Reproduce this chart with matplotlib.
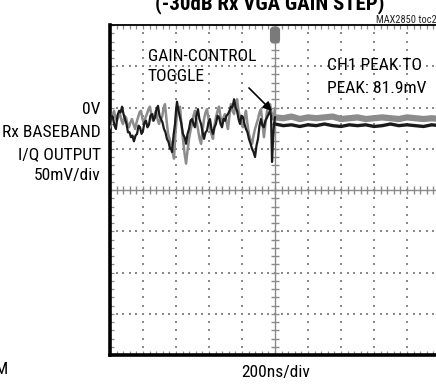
import matplotlib
matplotlib.use("Agg")
import matplotlib.pyplot as plt
import numpy as np
from matplotlib.patches import FancyBboxPatch, FancyArrowPatch

plt.rcParams['font.family'] = ['Roboto Condensed', 'Archivo Narrow', 'DejaVu Sans']

W, H = 436, 388

# ---- data (time in ns, voltage in mV relative to screen centre) ----
black_t = [0, 9, 18, 27, 36, 45, 55, 64, 73, 82, 91, 100, 109, 118, 127, 136, 145, 155, 164,
           173, 182, 191, 200, 209, 218, 227, 236, 245, 255, 264, 273, 282, 291, 300, 309,
           318, 327, 336, 345, 355, 364, 370, 376, 385, 394, 400, 406, 415, 424, 433, 442,
           452, 461, 470, 479, 488, 497, 506, 515, 524, 533, 542, 552, 561, 570, 579, 588,
           597, 606, 615, 624, 633, 642, 652, 661, 670, 679, 688, 697, 706, 715, 724, 733,
           742, 752, 761, 770, 779, 788, 797, 806, 815, 824, 833, 842, 852, 861, 870, 879,
           888, 897, 906, 915, 924, 933, 942, 952, 961, 970, 976, 982, 988, 994, 1000]
black_v = [80, 90, 88, 78, 74, 90, 96, 94, 101, 92, 86, 80, 70, 70, 64, 66, 59, 66, 68,
           78, 76, 68, 72, 82, 84, 76, 79, 90, 92, 84, 88, 98, 102, 90, 86,
           82, 74, 70, 62, 58, 50, 50, 46, 66, 80, 96, 107, 96, 88, 80, 68,
           64, 56, 68, 74, 84, 86, 80, 76, 90, 98, 86, 80, 70, 62, 70, 72,
           82, 86, 74, 68, 76, 80, 90, 88, 80, 76, 86, 84, 90, 92, 96, 101,
           100, 110, 100, 96, 86, 80, 90, 88, 80, 74, 70, 62, 56, 50, 46, 40,
           54, 62, 78, 86, 78, 76, 84, 88, 92, 96, 90, 34, 60, 80, 88]
gray_t = [0, 12, 24, 33, 42, 52, 61, 70, 79, 88, 97, 106, 115, 124, 133, 142, 152, 161, 170,
          179, 188, 197, 206, 215, 224, 233, 242, 252, 261, 270, 279, 288, 297, 306, 315,
          324, 333, 343, 352, 361, 370, 379, 388, 397, 406, 415, 424, 433, 442, 452, 461,
          470, 479, 488, 497, 506, 515, 524, 533, 543, 552, 561, 570, 579, 588, 597, 606,
          615, 624, 633, 642, 652, 661, 670, 679, 688, 697, 706, 715, 724, 733, 743, 752,
          761, 770, 779, 788, 797, 806, 815, 824, 833, 842, 852, 861, 870, 879, 888, 897,
          906, 915, 924, 933, 943, 952, 961, 970, 979, 988, 994, 1000]
gray_v = [76, 88, 96, 88, 84, 90, 92, 84, 80, 90, 88, 80, 76, 82, 86, 80, 74, 82, 88,
          94, 96, 86, 80, 88, 92, 98, 101, 90, 84, 92, 96, 86, 80, 86, 88,
          98, 104, 84, 68, 62, 56, 46, 38, 70, 92, 98, 101, 80, 62, 44, 32,
          48, 62, 72, 80, 90, 96, 84, 74, 62, 56, 72, 86, 94, 98, 86, 76,
          68, 62, 78, 88, 96, 101, 88, 80, 88, 92, 82, 74, 90, 104, 96, 92,
          102, 110, 96, 88, 80, 76, 88, 96, 80, 68, 60, 56, 66, 74, 80, 86,
          94, 98, 80, 64, 82, 96, 100, 104, 94, 86, 92, 98]
post_t = [1000, 1050, 1100, 1150, 1200, 1250, 1300, 1350, 1400, 1450, 1500,
          1550, 1600, 1650, 1700, 1750, 1800, 1850, 1900, 1950, 2000]
post_black_v = [80, 78, 79, 77, 79, 78, 80, 78, 77, 79, 78, 79, 77, 78, 80, 78, 79, 78, 77, 79, 78]
post_gray_v = [88, 87, 89, 86, 88, 87, 88, 89, 86, 87, 88, 86, 87, 88, 87, 86, 88, 87, 86, 87, 86]

left_labels = ["0V", "Rx BASEBAND", "I/Q OUTPUT", "50mV/div"]
title = "(-30dB Rx VGA GAIN STEP)"

fig = plt.figure(figsize=(W / 100, H / 100), dpi=100)


def fx(x):
    return x / W


def fy(y):
    return 1 - y / H


ax = fig.add_axes([fx(110), fy(355), 330 / W, 330 / H])
ax.set_xlim(0, 2000)
ax.set_ylim(-200, 200)

gc = '#8a8a8a'
# dotted graticule
for gx in range(200, 2000, 200):
    if gx == 1000:
        continue
    ys = np.arange(-200, 201, 10)
    ax.scatter(np.full(len(ys), gx), ys, s=2.2, marker='s', color=gc, linewidths=0, zorder=1)
for gyy in (-150, -100, -50, 50, 100, 150):
    xs = np.arange(0, 2001, 40)
    ax.scatter(xs, np.full(len(xs), gyy), s=2.2, marker='s', color=gc, linewidths=0, zorder=1)
# centre cross
ax.axvline(1000, color=gc, lw=1.0, zorder=1)
ax.axhline(0, color=gc, lw=1.0, zorder=1)
xs = np.arange(0, 2001, 40)
ax.plot(xs, np.zeros(len(xs)), ls='none', marker='|', ms=6, mew=1.0, color=gc, zorder=1)
ys = np.arange(-200, 201, 10)
ax.plot(np.full(len(ys), 1000), ys, ls='none', marker='_', ms=6, mew=1.0, color=gc, zorder=1)

# traces
ax.plot(gray_t, gray_v, color='#8c8c8c', lw=1.8, zorder=3)
ax.plot(black_t, black_v, color='#1a1a1a', lw=1.6, zorder=4)
ax.plot(post_t, post_gray_v, color='#8c8c8c', lw=4.5, zorder=3, solid_joinstyle='round')
ax.plot(post_t, post_black_v, color='#1a1a1a', lw=2.4, zorder=4)

# frame and ticks
ax.set_xticks(np.arange(0, 2001, 200))
ax.set_xticks(np.arange(0, 2001, 40), minor=True)
ax.set_yticks(np.arange(-200, 201, 50))
ax.set_yticks(np.arange(-200, 201, 10), minor=True)
ax.tick_params(which='both', direction='in', top=True, right=True, labelbottom=False,
               labelleft=False, length=3, width=0.9, color=gc)
for s in ('left', 'bottom', 'right'):
    ax.spines[s].set_linewidth(2.6)
ax.spines['top'].set_linewidth(1.3)
ax.set_facecolor('white')

# trigger marker
tb = FancyBboxPatch((fx(271.5), fy(42)), 7 / W, 14 / H, boxstyle='round,pad=0.002,rounding_size=0.008',
                    transform=fig.transFigure, facecolor='#7a7a7a', edgecolor='#7a7a7a', zorder=6)
fig.patches.append(tb)
fig.text(fx(275), fy(35), "T", color='white', fontsize=6.5, fontweight='bold', ha='center', va='center')

fs = 12.6
# annotations inside
fig.text(fx(148), fy(56.5), "GAIN-CONTROL", fontsize=fs, ha='left', va='center')
fig.text(fx(148), fy(76.5), "TOGGLE", fontsize=fs, ha='left', va='center')
fig.text(fx(327), fy(66), "CH1 PEAK TO", fontsize=fs, ha='left', va='center')
fig.text(fx(327), fy(88.5), "PEAK: 81.9mV", fontsize=fs, ha='left', va='center')
fig.add_artist(FancyArrowPatch((fx(247), fy(86)), (fx(274), fy(113)),
                               transform=fig.transFigure, arrowstyle='-|>',
                               mutation_scale=13, lw=1.2, color='black', zorder=7))

# left labels
for lab, yy in zip(left_labels, [109, 132.5, 154.5, 175.5]):
    fig.text(fx(100.5), fy(yy), lab, fontsize=fs, ha='right', va='center')

# top title (cut off) and id
fig.text(fx(270), fy(9), title, fontsize=15, fontweight='bold', ha='center', va='baseline')
fig.text(fx(437), fy(23), "MAX2850 toc2", fontsize=7.5, ha='right', va='baseline', color='#222222')

# bottom
fig.text(fx(276), fy(372), "200ns/div", fontsize=fs, ha='center', va='center')
fig.text(fx(8), fy(369), "M", fontsize=fs, ha='right', va='center')

fig.savefig("out.png", dpi=100)
